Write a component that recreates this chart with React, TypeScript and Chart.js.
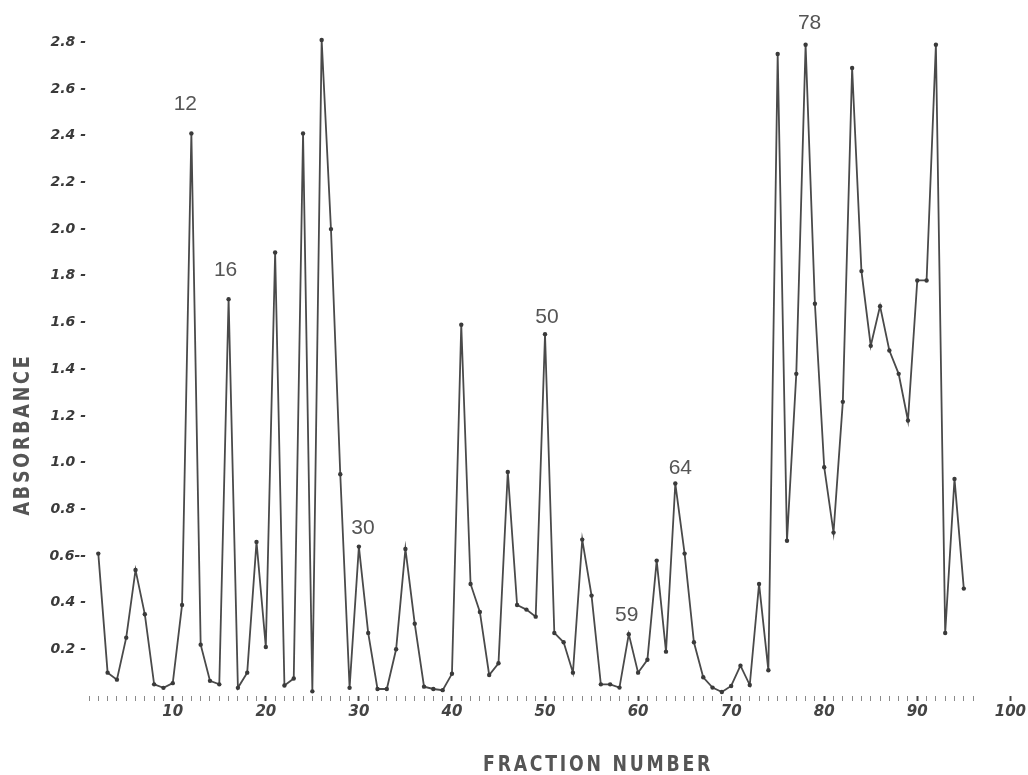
import React, { useEffect, useRef } from 'react';
import { Chart, registerables } from 'chart.js';

Chart.register(...registerables);

// ---- data ----
const fractions = [
  2, 3, 4, 5, 6, 7, 8, 9, 10, 11, 12, 13, 14, 15, 16, 17, 18, 19, 20, 21, 22, 23, 24, 25, 26, 27, 28, 29, 30,
  31, 32, 33, 34, 35, 36, 37, 38, 39, 40, 41, 42, 43, 44, 45, 46, 47, 48, 49, 50, 51, 52, 53, 54, 55, 56, 57,
  58, 59, 60, 61, 62, 63, 64, 65, 66, 67, 68, 69, 70, 71, 72, 73, 74, 75, 76, 77, 78, 79, 80, 81, 82, 83, 84,
  85, 86, 87, 88, 89, 90, 91, 92, 93, 94, 95,
];
const absorbance = [
  0.61, 0.1, 0.07, 0.25, 0.54, 0.35, 0.05, 0.035, 0.055, 0.39, 2.41, 0.22, 0.065, 0.05, 1.7, 0.035, 0.1, 0.66,
  0.21, 1.9, 0.045, 0.075, 2.41, 0.02, 2.81, 2.0, 0.95, 0.035, 0.64, 0.27, 0.03, 0.03, 0.2, 0.63, 0.31, 0.04,
  0.03, 0.025, 0.095, 1.59, 0.48, 0.36, 0.09, 0.14, 0.96, 0.39, 0.37, 0.34, 1.55, 0.27, 0.23, 0.1, 0.67, 0.43,
  0.05, 0.05, 0.036, 0.265, 0.1, 0.155, 0.58, 0.19, 0.91, 0.61, 0.23, 0.08, 0.036, 0.017, 0.043, 0.13, 0.047,
  0.48, 0.11, 2.75, 0.665, 1.38, 2.79, 1.68, 0.98, 0.7, 1.26, 2.69, 1.82, 1.5, 1.67, 1.48, 1.38, 1.18, 1.78,
  1.78, 2.79, 0.27, 0.93, 0.46,
];
const yTickValues = [0.2, 0.4, 0.6, 0.8, 1.0, 1.2, 1.4, 1.6, 1.8, 2.0, 2.2, 2.4, 2.6, 2.8];
const xLabelValues = [10, 20, 30, 40, 50, 60, 70, 80, 90, 100];
const peakLabels = [12, 16, 30, 50, 59, 64, 78];

// ---- style ----
const peakLabelOffsets: [number, number][] = [
  [-6, -29], [-3, -29], [4, -18], [2, -17], [-2, -19], [5, -15], [4, -21],
];
const INK = '#4a4a4a';
const TEXT = '#555555';
const HAND_FONT = '"DejaVu Sans", sans-serif';
const TITLE_FONT = '"Liberation Sans Narrow", "DejaVu Sans Condensed", "Liberation Sans", sans-serif';

const overlayPlugin = {
  id: 'overlay',
  afterDraw(chart: any) {
    const { ctx, scales } = chart;
    const xs = scales.x;
    const ys = scales.y;
    ctx.save();
    // peak labels
    ctx.fillStyle = TEXT;
    ctx.font = '21px "Liberation Sans", Arial, sans-serif';
    ctx.textAlign = 'center';
    ctx.textBaseline = 'middle';
    peakLabels.forEach((f, i) => {
      const idx = fractions.indexOf(f);
      if (idx < 0) return;
      const px = xs.getPixelForValue(f) + peakLabelOffsets[i][0];
      const py = ys.getPixelForValue(absorbance[idx]) + peakLabelOffsets[i][1];
      ctx.fillText(String(f), px, py);
    });

    // axis titles (condensed look via horizontal scaling)
    const drawTitle = (text: string, cx: number, cy: number, target: number, rotate: boolean) => {
      ctx.save();
      ctx.font = 'bold 21px ' + TITLE_FONT;
      (ctx as any).letterSpacing = '3px';
      const w = ctx.measureText(text).width;
      const sx = target / w;
      ctx.translate(cx, cy);
      if (rotate) ctx.rotate(-Math.PI / 2);
      ctx.scale(sx, 1);
      ctx.fillStyle = TEXT;
      ctx.textAlign = 'center';
      ctx.textBaseline = 'middle';
      ctx.fillText(text, 0, 0);
      ctx.restore();
    };
    drawTitle('FRACTION NUMBER', xs.getPixelForValue(55.7), chart.height - 9, 230, false);
    drawTitle('ABSORBANCE', 24, ys.getPixelForValue(1.12), 162, true);
    ctx.restore();
  },
};

export default function App() {
  const canvasRef = useRef<HTMLCanvasElement | null>(null);

  useEffect(() => {
    if (!canvasRef.current) return;
    const points = fractions.map((f, i) => ({ x: f, y: absorbance[i] }));
    const chart = new Chart(canvasRef.current, {
      type: 'line',
      data: {
        datasets: [
          {
            data: points,
            borderColor: INK,
            borderWidth: 1.8,
            pointRadius: 2.2,
            pointBackgroundColor: '#3a3a3a',
            pointBorderWidth: 0,
            tension: 0,
            clip: false as any,
          },
        ],
      },
      options: {
        animation: false,
        responsive: true,
        maintainAspectRatio: false,
        layout: { padding: { top: 19, right: 17, left: 0, bottom: 0 } },
        plugins: { legend: { display: false }, tooltip: { enabled: false }, title: { display: false } },
        scales: {
          x: {
            type: 'linear',
            min: 1,
            max: 100,
            afterFit: (s: any) => {
              s.height = 79;
            },
            border: { display: false },
            grid: {
              drawOnChartArea: false,
              drawTicks: true,
              tickLength: 5,
              tickColor: (c: any) => {
                const v = c.tick?.value;
                if (v > 96 && v < 100) return 'rgba(0,0,0,0)';
                return v % 10 === 0 ? '#444' : '#8a8a8a';
              },
              tickWidth: (c: any) => (c.tick?.value % 10 === 0 ? 2 : 1),
            },
            ticks: {
              stepSize: 1,
              autoSkip: false,
              maxRotation: 0,
              padding: 2,
              color: '#444',
              font: { family: HAND_FONT, size: 15, weight: 'bold', style: 'italic' },
              callback: (v: any) => (xLabelValues.includes(Number(v)) ? String(v) : ''),
            },
          },
          y: {
            type: 'linear',
            min: 0,
            max: 2.9,
            afterFit: (s: any) => {
              s.width = 89;
            },
            afterBuildTicks: (s: any) => {
              s.ticks = yTickValues.map((v) => ({ value: v }));
            },
            border: { display: false },
            grid: { display: false, drawTicks: false },
            ticks: {
              padding: 3,
              color: '#3a3a3a',
              font: { family: HAND_FONT, size: 14, weight: 'bold', style: 'italic' },
              callback: (v: any) => {
                const n = Number(v);
                return n.toFixed(1) + (Math.abs(n - 0.6) < 1e-6 ? '--' : ' -');
              },
            },
          },
        },
      },
      plugins: [overlayPlugin],
    });
    return () => chart.destroy();
  }, []);

  return (
    <div style={{ position: 'fixed', left: 0, top: 0, width: 1028, height: 775, background: '#fff' }}>
      <canvas ref={canvasRef} />
    </div>
  );
}
